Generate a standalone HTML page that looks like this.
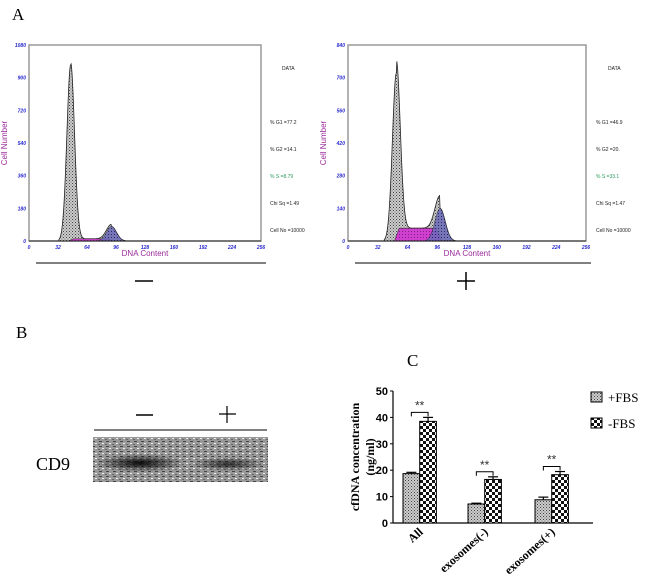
<!DOCTYPE html>
<html><head><meta charset="utf-8"><style>
body{margin:0;background:#fff;}
svg{display:block;font-family:"Liberation Sans",sans-serif;}
.serif{font-family:"Liberation Serif",serif;}
</style></head><body>
<svg id="fig" width="650" height="585" viewBox="0 0 650 585">
<defs>
<pattern id="pg" width="3" height="3" patternUnits="userSpaceOnUse"><rect width="3" height="3" fill="#ccc"/><rect width="1" height="1" fill="#444"/><rect x="1.5" y="1.5" width="1" height="1" fill="#666"/></pattern>
<pattern id="pc" width="6" height="6" patternUnits="userSpaceOnUse"><rect width="6" height="6" fill="#fff"/><rect width="3" height="3" fill="#111"/><rect x="3" y="3" width="3" height="3" fill="#111"/></pattern>
<pattern id="ps" width="3" height="3" patternUnits="userSpaceOnUse"><rect width="3" height="3" fill="#d040d0"/><rect width="1" height="1" fill="#802080"/></pattern>
<pattern id="pb" width="3" height="3" patternUnits="userSpaceOnUse"><rect width="3" height="3" fill="#6a6ab8"/><rect width="1" height="1" fill="#222266"/></pattern>
<pattern id="blot" width="7" height="5" patternUnits="userSpaceOnUse"><rect width="7" height="5" fill="#999"/><rect x="1" y="1" width="3" height="1" fill="#444"/><rect x="4" y="3" width="2" height="1" fill="#eee"/><rect x="0" y="4" width="2" height="1" fill="#666"/></pattern>
<radialGradient id="band1"><stop offset="0" stop-color="#000" stop-opacity="0.95"/><stop offset="1" stop-color="#000" stop-opacity="0"/></radialGradient>
</defs>
<text x="12" y="20" class="serif" font-size="17">A</text>
<g id="flow"></g>
<text x="16" y="338" class="serif" font-size="17">B</text>
<text x="407" y="366" class="serif" font-size="17">C</text>
<g>
<line x1="94" y1="430" x2="267" y2="430" stroke="#000" stroke-width="1"/>
<line x1="136" y1="415" x2="153" y2="415" stroke="#000" stroke-width="1.5"/>
<line x1="219" y1="414" x2="236" y2="414" stroke="#000" stroke-width="1.2"/>
<line x1="227" y1="406" x2="227" y2="423" stroke="#000" stroke-width="1.2"/>
<rect x="93" y="437" width="175" height="45" fill="url(#blot)"/>
<ellipse cx="140" cy="463" rx="45" ry="9" fill="url(#band1)"/>
<ellipse cx="228" cy="464" rx="38" ry="7" fill="url(#band1)" opacity="0.75"/>
<text x="36" y="470" class="serif" font-size="18">CD9</text>
</g>
<g id="bars"></g>
</svg>
<script>
const NS="http://www.w3.org/2000/svg";
function el(p,t,a){const e=document.createElementNS(NS,t);for(const k in a)e.setAttribute(k,a[k]);p.appendChild(e);return e;}
// flow data
const flowYMax=[1080,840];
const flowYTicks=[[0,180,360,540,720,900,1080],[0,140,280,420,560,700,840]];
const xTicks=[0,32,64,96,128,160,192,224,256];
const g1Peak=[970,720];
const g1Pos=[46,52];
const g2Peak=[80,140];
const g2Pos=[91,99];
const sLevel=[12,55];
const statText=[["% G1 =77.2","% G2 =14.1","% S  =8.79","Chi Sq =1.49","Cell No =10000"],["% G1 =46.9","% G2 =20.","% S  =33.1","Chi Sq =1.47","Cell No =10000"]];
const signs=["minus","plus"];
const fg=document.getElementById('flow');
[{x0:29,x1:261,y0:45,y1:241,tx:270},{x0:348,x1:586,y0:45,y1:241,tx:596}].forEach((b,i)=>{
  const g=el(fg,'g',{});
  
  
  const sx=v=>b.x0+v/256*(b.x1-b.x0), sy=v=>b.y1-v/flowYMax[i]*(b.y1-b.y0);
  el(g,'rect',{x:b.x0,y:b.y0,width:b.x1-b.x0,height:b.y1-b.y0,fill:'#fff',stroke:'#999','stroke-width':1.5});
  const w1=4.2,w2=5.5;
  const total=c=>g1Peak[i]*Math.exp(-((c-g1Pos[i])**2)/(2*w1*w1))+g2Peak[i]*Math.exp(-((c-g2Pos[i])**2)/(2*w2*w2))+((c>g1Pos[i]&&c<g2Pos[i])?sLevel[i]:0);
  let sp=`M${sx(g1Pos[i]-2)},${sy(0)}`;
  sp+=` L${sx(g1Pos[i]+3)},${sy(sLevel[i])} L${sx(g2Pos[i]-4)},${sy(sLevel[i])} L${sx(g2Pos[i]+2)},${sy(0)}Z`;
  let gp=`M${sx(g2Pos[i]-16)},${sy(0)}`;
  for(let c=g2Pos[i]-16;c<=g2Pos[i]+16;c+=1)gp+=` L${sx(c)},${sy(g2Peak[i]*Math.exp(-((c-g2Pos[i])**2)/(2*w2*w2)))}`;
  let tp=`M${sx(g1Pos[i]-13)},${sy(0)}`;
  for(let c=g1Pos[i]-13;c<=g2Pos[i]+17;c+=0.5)tp+=` L${sx(c)},${sy(total(c))}`;
  tp+=` L${sx(g2Pos[i]+17)},${sy(0)}Z`;
  el(g,'path',{d:tp,fill:'url(#pg)',stroke:'#222','stroke-width':0.8});
  el(g,'path',{d:sp,fill:'url(#ps)',stroke:'#222','stroke-width':0.5});
  el(g,'path',{d:gp+'Z',fill:'url(#pb)',stroke:'#222','stroke-width':0.5,opacity:0.85});
  el(g,'line',{x1:b.x0,y1:b.y1,x2:b.x1,y2:b.y1,stroke:'#222'});
  flowYTicks[i].forEach(t=>{const e=el(g,'text',{x:b.x0-3,y:sy(t)+2,'font-size':5,fill:'#2a2ad0','text-anchor':'end','font-style':'italic','font-weight':'bold'});e.textContent=t;});
  xTicks.forEach(t=>{const e=el(g,'text',{x:sx(t),y:b.y1+8,'font-size':5,fill:'#2a2ad0','text-anchor':'middle','font-style':'italic','font-weight':'bold'});e.textContent=t;});
  const xl=el(g,'text',{x:(b.x0+b.x1)/2,y:b.y1+15,'font-size':8,fill:'#9a2a9a','text-anchor':'middle'});xl.textContent='DNA Content';
  const yl=el(g,'text',{x:0,y:0,'font-size':8,fill:'#9a2a9a','text-anchor':'middle',transform:`translate(${b.x0-22},${(b.y0+b.y1)/2}) rotate(-90)`});yl.textContent='Cell Number';
  const d=el(g,'text',{x:b.tx+12,y:70,'font-size':5,fill:'#222'});d.textContent='DATA';
  statText[i].forEach((s,j)=>{const e=el(g,'text',{x:b.tx,y:124+j*27,'font-size':5,fill:j==2?'#2a9a5a':'#222'});e.textContent=s;});
  el(fg,'line',{x1:b.x0+7,y1:263,x2:b.x1+5,y2:263,stroke:'#000','stroke-width':1});
  const cx=(b.x0+b.x1)/2;
  el(fg,'line',{x1:cx-10,y1:281,x2:cx+8,y2:281,stroke:'#000','stroke-width':1.5});
  if(i==1)el(fg,'line',{x1:cx-1,y1:272,x2:cx-1,y2:290,stroke:'#000','stroke-width':1.5});
});
// bar chart
const categories=["All","exosomes(-)","exosomes(+)"];
const plusFBS=[18.7,7.2,8.8];
const minusFBS=[38.5,16.5,18.3];
const plusErr=[0.5,0.3,1.0];
const minusErr=[1.5,1.0,1.2];
const yTicks=[0,10,20,30,40,50];
const sig=["**","**","**"];
const bg=document.getElementById('bars');
const X0=393,X1=593,Y0=523,Y50=391;
const ys=v=>Y0-v/50*(Y0-Y50);
const bw=16.7;
const groupStart=[403,468,535];
el(bg,'line',{x1:X0,y1:Y50,x2:X0,y2:Y0,stroke:'#000','stroke-width':1.2});
el(bg,'line',{x1:X0,y1:Y0,x2:X1,y2:Y0,stroke:'#000','stroke-width':1.2});
yTicks.forEach(t=>{el(bg,'line',{x1:X0-3,y1:ys(t),x2:X0,y2:ys(t),stroke:'#000'});const e=el(bg,'text',{x:X0-5,y:ys(t)+4,'font-size':11,'font-weight':'bold','text-anchor':'end'});e.textContent=t;});
const yl=el(bg,'text',{x:0,y:0,'font-size':12,'font-weight':'bold','text-anchor':'middle',class:'serif',transform:`translate(366,457) rotate(-90)`});


yl.innerHTML='<tspan x="0" dy="-7">cfDNA concentration</tspan><tspan x="0" dy="15">(ng/ml)</tspan>';
categories.forEach((c,i)=>{
  const x=groupStart[i];
  const b1=el(bg,'rect',{x:x,y:ys(plusFBS[i]),width:bw,height:Y0-ys(plusFBS[i]),fill:'url(#pg)',stroke:'#000','stroke-width':1});
  
  
  const b2=el(bg,'rect',{x:x+bw,y:ys(minusFBS[i]),width:bw,height:Y0-ys(minusFBS[i]),fill:'url(#pc)',stroke:'#000','stroke-width':1});
  
  
  [[x+bw/2,plusFBS[i],plusErr[i]],[x+1.5*bw,minusFBS[i],minusErr[i]]].forEach(([cx,v,e])=>{el(bg,'line',{x1:cx,y1:ys(v),x2:cx,y2:ys(v+e),stroke:'#000','stroke-width':1.2});el(bg,'line',{x1:cx-5,y1:ys(v+e),x2:cx+5,y2:ys(v+e),stroke:'#000','stroke-width':1.2});});
  const by=ys(minusFBS[i]+minusErr[i])-5;
  el(bg,'path',{d:`M${x+bw/2},${by+4} V${by} H${x+1.5*bw} V${by+4}`,fill:'none',stroke:'#000','stroke-width':1});
  const s=el(bg,'text',{x:x+bw,y:by-3,'font-size':12,'text-anchor':'middle',fill:'#333'});s.textContent=sig[i];
  const l=el(bg,'text',{x:0,y:0,'font-size':12,'font-weight':'bold',class:'serif','text-anchor':'end',transform:`translate(${x+bw+4},${Y0+10}) rotate(-42)`});
  
  
  l.textContent=c;
});
[["+FBS","url(#pg)",402],["-FBS","url(#pc)",428]].forEach(([t,f,y])=>{
  const g=el(bg,'g',{});
  
  
  el(g,'rect',{x:591,y:y-10,width:11,height:10,fill:f,stroke:'#000'});
  const e=el(g,'text',{x:608,y:y,'font-size':13,class:'serif'});e.textContent=t;
});
</script>
</body></html>
